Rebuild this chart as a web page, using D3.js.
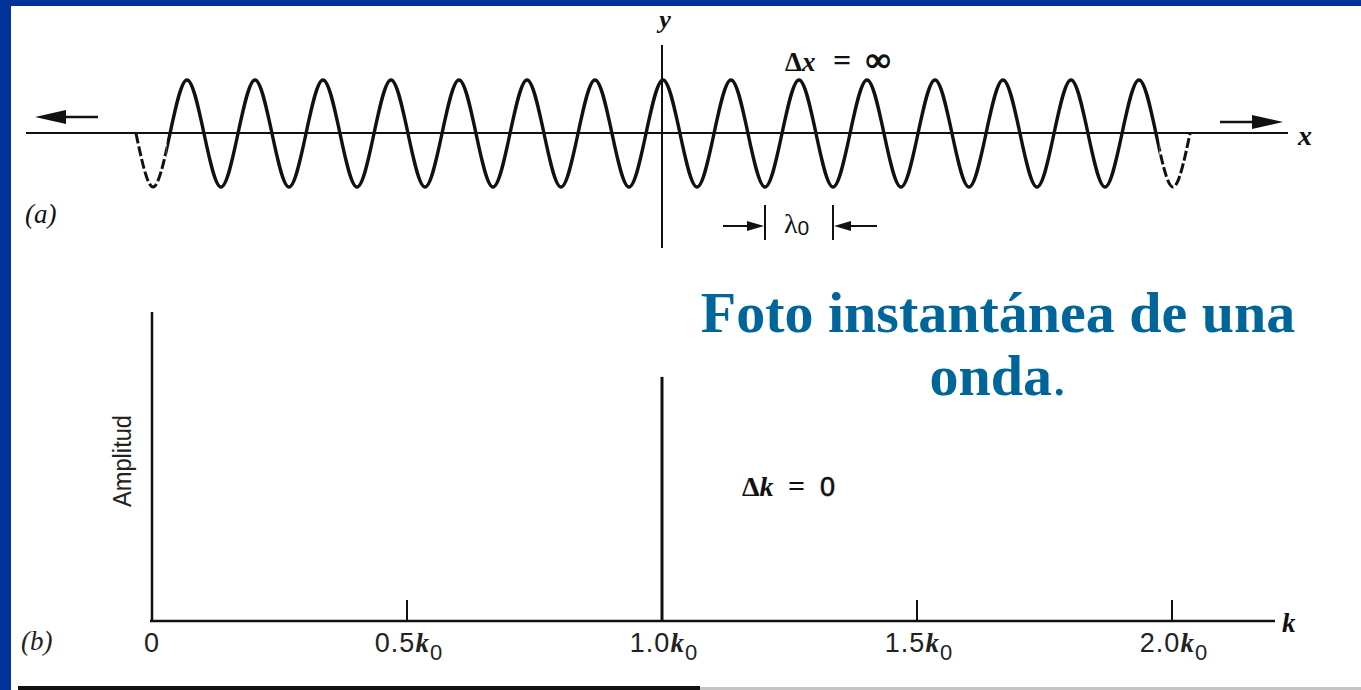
<!DOCTYPE html>
<html>
<head>
<meta charset="utf-8">
<script src="https://cdn.jsdelivr.net/npm/d3@7"></script>
<style>
  body { margin: 0; background: #fff; }
  #chart { width: 1361px; height: 690px; }
  .serif { font-family: "Liberation Serif", "Times New Roman", serif; }
  .sans { font-family: "Liberation Sans", Arial, sans-serif; }
</style>
</head>
<body>
<div id="chart"></div>
<script>
// (a) wave: positions in units of lambda0, values in units of the amplitude
const waveX = [-7.75, -7.5, -7, -6.5, -6, -5.5, -5, -4.5, -4, -3.5, -3, -2.5, -2, -1.5, -1, -0.5,
  0, 0.5, 1, 1.5, 2, 2.5, 3, 3.5, 4, 4.5, 5, 5.5, 6, 6.5, 7, 7.5, 7.75];
const waveY = [0, -1, 1, -1, 1, -1, 1, -1, 1, -1, 1, -1, 1, -1, 1, -1,
  1, -1, 1, -1, 1, -1, 1, -1, 1, -1, 1, -1, 1, -1, 1, -1, 0];
// part of the wave drawn solid, the rest is dashed
const solidRange = [-7.3, 7.3];
// wavelength marker, from trough to trough
const lambdaMarks = [1.5, 2.5];

// (b) spectrum
const kTicks = [0, 0.5, 1.0, 1.5, 2.0];
const kTickLabels = ["0", "0.5", "1.0", "1.5", "2.0"];
const spectrumK = [1.0];
const spectrumAmp = [0.79];

const title1 = "Foto instantánea de una";
const title2 = "onda";

function draw(id) {
  const div = d3.select(`#${id}`);
  div.selectAll("*").remove();
  const width = 1361, height = 690;
  const svg = div.append("svg").attr("width", width).attr("height", height);

  // slide frame
  svg.append("rect").attr("x", 0).attr("y", 0).attr("width", width).attr("height", height).attr("fill", "#fff");
  svg.append("rect").attr("x", 0).attr("y", 0).attr("width", 11).attr("height", height).attr("fill", "#003399");
  svg.append("rect").attr("x", 0).attr("y", 0).attr("width", width).attr("height", 6).attr("fill", "#003399");
  svg.append("rect").attr("x", 18).attr("y", 686).attr("width", 682).attr("height", 4).attr("fill", "#111");
  svg.append("rect").attr("x", 700).attr("y", 687).attr("width", 661).attr("height", 3).attr("fill", "#c4c4c4");

  // ---------- (a) the wave ----------
  const x = d3.scaleLinear().domain([-7.75, 7.75]).range([136, 1190]);
  const y = d3.scaleLinear().domain([-1, 1]).range([187, 80]);
  const top = svg.append("g");

  // x axis with arrows
  top.append("line").attr("x1", 26).attr("x2", 1288).attr("y1", 133).attr("y2", 133)
    .attr("stroke", "#111").attr("stroke-width", 2);
  top.append("line").attr("x1", 58).attr("x2", 98).attr("y1", 117).attr("y2", 117)
    .attr("stroke", "#111").attr("stroke-width", 2.5);
  top.append("path").attr("d", "M35,117 L66,110 L66,124 Z").attr("fill", "#111");
  top.append("line").attr("x1", 1220).attr("x2", 1258).attr("y1", 122).attr("y2", 122)
    .attr("stroke", "#111").attr("stroke-width", 2.5);
  top.append("path").attr("d", "M1283,122 L1252,115 L1252,129 Z").attr("fill", "#111");

  // y axis
  top.append("line").attr("x1", x(0) - 1).attr("x2", x(0) - 1).attr("y1", 45).attr("y2", 248)
    .attr("stroke", "#111").attr("stroke-width", 2);

  // wave, solid in the middle and dashed at both ends
  const pts = waveX.map((d, i) => [d, waveY[i]]);
  const line = d3.line().x(d => x(d[0])).y(d => y(d[1])).curve(d3.curveMonotoneX);
  const defs = svg.append("defs");
  defs.append("clipPath").attr("id", "solid-clip").append("rect")
    .attr("x", x(solidRange[0])).attr("y", 0).attr("width", x(solidRange[1]) - x(solidRange[0])).attr("height", 300);
  const dc = defs.append("clipPath").attr("id", "dash-clip");
  dc.append("rect").attr("x", 0).attr("y", 0).attr("width", x(solidRange[0])).attr("height", 300);
  dc.append("rect").attr("x", x(solidRange[1])).attr("y", 0).attr("width", 400).attr("height", 300);

  top.append("path").datum(pts).attr("d", line).attr("fill", "none")
    .attr("stroke", "#111").attr("stroke-width", 3.4).attr("clip-path", "url(#solid-clip)");
  top.append("path").datum(pts).attr("d", line).attr("fill", "none")
    .attr("stroke", "#111").attr("stroke-width", 3).attr("stroke-dasharray", "10 3")
    .attr("clip-path", "url(#dash-clip)");

  // lambda0 marker
  const [l1, l2] = lambdaMarks.map(d => x(d));
  top.selectAll(".lbar").data([l1, l2]).join("line").attr("class", "lbar")
    .attr("x1", d => d).attr("x2", d => d).attr("y1", 205).attr("y2", 240)
    .attr("stroke", "#111").attr("stroke-width", 2);
  top.append("line").attr("x1", 723).attr("x2", l1 - 10).attr("y1", 226).attr("y2", 226)
    .attr("stroke", "#111").attr("stroke-width", 2);
  top.append("path").attr("d", `M${l1 - 1},226 L${l1 - 18},221 L${l1 - 18},231 Z`).attr("fill", "#111");
  top.append("line").attr("x1", l2 + 10).attr("x2", 877).attr("y1", 226).attr("y2", 226)
    .attr("stroke", "#111").attr("stroke-width", 2);
  top.append("path").attr("d", `M${l2 + 1},226 L${l2 + 18},221 L${l2 + 18},231 Z`).attr("fill", "#111");
  const lam = top.append("text").attr("class", "serif").attr("x", 784).attr("y", 233)
    .attr("font-size", 28).attr("fill", "#111");
  lam.append("tspan").text("λ");
  lam.append("tspan").attr("class", "sans").attr("font-size", 21).attr("dy", 2).text("0");

  // labels of panel (a)
  top.append("text").attr("class", "serif").attr("x", x(0) + 2).attr("y", 28)
    .attr("text-anchor", "middle").attr("font-size", 26).attr("font-style", "italic")
    .attr("font-weight", "bold").attr("fill", "#111").text("y");
  top.append("text").attr("class", "serif").attr("x", 1298).attr("y", 145)
    .attr("font-size", 28).attr("font-style", "italic").attr("font-weight", "bold")
    .attr("fill", "#111").text("x");
  const dx = top.append("g").attr("class", "serif").attr("font-weight", "bold").attr("fill", "#111");
  dx.append("text").attr("x", 785).attr("y", 71).attr("font-size", 27)
    .html('Δ<tspan font-style="italic">x</tspan>');
  dx.append("text").attr("x", 833).attr("y", 71).attr("font-size", 32).text("=");
  dx.append("text").attr("x", 866).attr("y", 71).attr("font-size", 34)
    .attr("stroke", "#111").attr("stroke-width", 1.2).text("∞");
  top.append("text").attr("class", "serif").attr("x", 25).attr("y", 223)
    .attr("font-size", 27).attr("font-style", "italic").attr("fill", "#111").text("(a)");

  // ---------- (b) the spectrum ----------
  const k = d3.scaleLinear().domain([0, 2]).range([152, 1172]);
  const amp = d3.scaleLinear().domain([0, 1]).range([621, 312]);
  const bottom = svg.append("g");

  bottom.append("line").attr("x1", k(0) - 2).attr("x2", 1275).attr("y1", amp(0)).attr("y2", amp(0))
    .attr("stroke", "#111").attr("stroke-width", 2.5);
  bottom.append("line").attr("x1", k(0)).attr("x2", k(0)).attr("y1", amp(0)).attr("y2", amp(1))
    .attr("stroke", "#111").attr("stroke-width", 2.5);

  // small ticks
  bottom.selectAll(".tick").data(kTicks.filter(d => d > 0)).join("line").attr("class", "tick")
    .attr("x1", d => k(d)).attr("x2", d => k(d)).attr("y1", amp(0)).attr("y2", amp(0) - 21)
    .attr("stroke", "#111").attr("stroke-width", 2);

  // tick labels
  const tl = bottom.selectAll(".tlabel").data(kTicks).join("text").attr("class", "tlabel sans")
    .attr("x", d => k(d) + (d > 0 ? 2 : 0)).attr("y", 652).attr("text-anchor", "middle")
    .attr("font-size", 27).attr("fill", "#222").attr("letter-spacing", 1);
  tl.append("tspan").text((d, i) => kTickLabels[i]);
  tl.filter(d => d > 0).append("tspan").attr("class", "serif").attr("font-style", "italic")
    .attr("font-weight", "bold").attr("font-size", 27).text("k");
  tl.filter(d => d > 0).append("tspan").attr("font-size", 22).attr("dy", 8).text("0");

  // spike
  bottom.selectAll(".spike").data(spectrumK).join("line").attr("class", "spike")
    .attr("x1", d => k(d)).attr("x2", d => k(d)).attr("y1", amp(0)).attr("y2", (d, i) => amp(spectrumAmp[i]))
    .attr("stroke", "#111").attr("stroke-width", 3);

  // labels of panel (b)
  bottom.append("text").attr("class", "serif").attr("x", 1282).attr("y", 632)
    .attr("font-size", 27).attr("font-style", "italic").attr("font-weight", "bold")
    .attr("fill", "#111").text("k");
  bottom.append("text").attr("class", "serif").attr("x", 21).attr("y", 650)
    .attr("font-size", 27).attr("font-style", "italic").attr("fill", "#222").text("(b)");
  bottom.append("text").attr("class", "sans")
    .attr("transform", "translate(131,461) rotate(-90)").attr("text-anchor", "middle")
    .attr("font-size", 25).attr("textLength", 92).attr("lengthAdjust", "spacingAndGlyphs")
    .attr("fill", "#222").text("Amplitud");
  const dk = bottom.append("g").attr("fill", "#111");
  dk.append("text").attr("class", "serif").attr("x", 742).attr("y", 496).attr("font-size", 28)
    .attr("font-weight", "bold").html('Δ<tspan font-style="italic">k</tspan>');
  dk.append("text").attr("class", "serif").attr("x", 788).attr("y", 496).attr("font-size", 30)
    .attr("font-weight", "bold").text("=");
  dk.append("text").attr("class", "sans").attr("x", 820).attr("y", 496).attr("font-size", 27)
    .attr("stroke", "#111").attr("stroke-width", 0.6).text("0");

  // ---------- slide title ----------
  const tg = svg.append("g").attr("class", "serif").attr("font-weight", "bold")
    .attr("fill", "#006699").attr("text-anchor", "middle");
  tg.append("text").attr("x", 998).attr("y", 332).attr("font-size", 58).text(title1);
  const t2 = tg.append("text").attr("x", 998).attr("y", 395).attr("font-size", 58);
  t2.append("tspan").text(title2);
  t2.append("tspan").attr("font-weight", "normal").text(".");
}

draw("chart");
</script>
</body>
</html>
